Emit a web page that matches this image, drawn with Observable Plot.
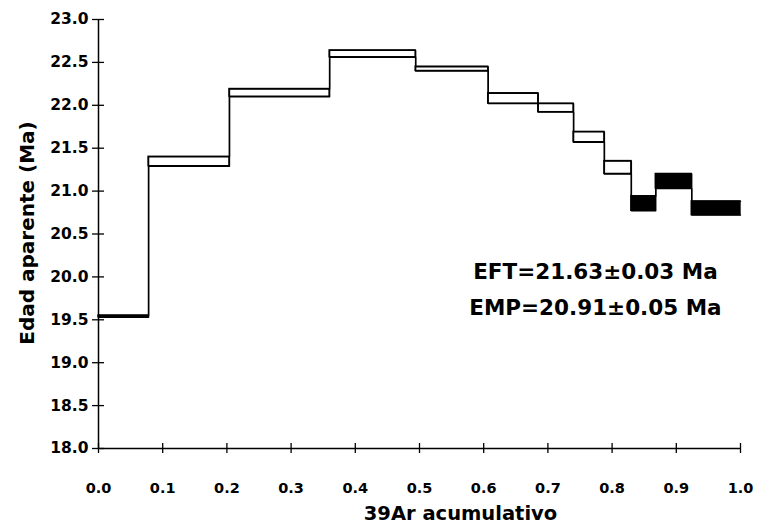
<!DOCTYPE html>
<html>
<head>
<meta charset="utf-8">
<script src="https://cdn.jsdelivr.net/npm/d3@7"></script>
<script src="https://cdn.jsdelivr.net/npm/@observablehq/plot@0.6"></script>
<style>
  html, body { margin: 0; padding: 0; background: #fff; }
</style>
</head>
<body>
<div id="chart"></div>
<script>
// Age spectrum data (cumulative 39Ar fraction vs apparent age, Ma)
const stepStart = [0.000, 0.078, 0.204, 0.360, 0.494, 0.607, 0.685, 0.740, 0.788, 0.830, 0.868, 0.924];
const stepEnd   = [0.078, 0.204, 0.360, 0.494, 0.607, 0.685, 0.740, 0.788, 0.830, 0.868, 0.924, 1.000];
const ageTop    = [19.55, 21.40, 22.19, 22.64, 22.45, 22.14, 22.02, 21.69, 21.35, 20.94, 21.20, 20.88];
const ageBottom = [19.53, 21.29, 22.10, 22.56, 22.40, 22.02, 21.92, 21.57, 21.20, 20.77, 21.03, 20.72];
const plateauStep = [false, false, false, false, false, false, false, false, false, true, true, true];

const xTicks = [0, 0.1, 0.2, 0.3, 0.4, 0.5, 0.6, 0.7, 0.8, 0.9, 1.0];
const yTicks = [18, 18.5, 19, 19.5, 20, 20.5, 21, 21.5, 22, 22.5, 23];

const xTitle = "39Ar acumulativo";
const yTitle = "Edad aparente (Ma)";
const annotations = ["EFT=21.63±0.03 Ma", "EMP=20.91±0.05 Ma"];
const annotationAge = [20.06, 19.64];

const steps = stepStart.map((s, i) => ({
  x1: s, x2: stepEnd[i], top: ageTop[i], bottom: ageBottom[i], filled: plateauStep[i]
}));
const topLine = steps.map(d => ({x: d.x1, y: d.top})).concat([{x: 1, y: ageTop[ageTop.length - 1]}]);
const bottomLine = steps.map(d => ({x: d.x1, y: d.bottom})).concat([{x: 1, y: ageBottom[ageBottom.length - 1]}]);

const font = "DejaVu Sans";
const fmt = d3.format(".1f");

const chart = Plot.plot({
  width: 758,
  height: 525,
  marginLeft: 98,
  marginRight: 18,
  marginTop: 19,
  marginBottom: 77,
  style: {fontFamily: font, fontWeight: "bold", color: "#000", background: "#fff"},
  x: {domain: [0, 1], label: null},
  y: {domain: [18, 23], label: null},
  marks: [
    Plot.ruleX([0], {stroke: "#000", strokeWidth: 1.5}),
    Plot.ruleY([18], {stroke: "#000", strokeWidth: 1.5}),
    // outward ticks + labels
    Plot.axisX({ticks: xTicks, tickSize: 5, tickPadding: 29, tickFormat: fmt, fontSize: 14.5, fontWeight: "bold", stroke: "#000", strokeWidth: 1.3, label: null}),
    Plot.axisX({ticks: xTicks, tickSize: 5, dy: -5, tickFormat: () => "", stroke: "#000", strokeWidth: 1.3, label: null}),
    Plot.axisY({ticks: yTicks, tickSize: 6, tickPadding: 4, tickFormat: fmt, fontSize: 15.5, fontWeight: "bold", stroke: "#000", strokeWidth: 1.3, label: null}),
    Plot.axisY({ticks: yTicks, tickSize: 6, dx: 6, tickFormat: () => "", stroke: "#000", strokeWidth: 1.3, label: null}),
    // step boxes
    Plot.rect(steps, {x1: "x1", x2: "x2", y1: "bottom", y2: "top", fill: d => d.filled ? "#000" : "#fff", stroke: "#000", strokeWidth: 1.4}),
    Plot.line(topLine, {x: "x", y: "y", curve: "step-after", stroke: "#000", strokeWidth: 1.4}),
    Plot.line(bottomLine, {x: "x", y: "y", curve: "step-after", stroke: "#000", strokeWidth: 1.4}),
    // annotations
    Plot.text(annotations, {x: 0.774, y: (d, i) => annotationAge[i], text: d => d, fontSize: 21.5, fontWeight: "bold", fill: "#000"}),
    // axis titles
    Plot.text([xTitle], {frameAnchor: "bottom", textAnchor: "middle", lineAnchor: "middle", text: d => d, dx: 41, dy: 65, fontSize: 19.5, fontWeight: "bold", fill: "#000"}),
    Plot.text([yTitle], {frameAnchor: "left", textAnchor: "middle", lineAnchor: "middle", text: d => d, dx: -71, dy: -1, rotate: -90, fontSize: 20, fontWeight: "bold", fill: "#000"})
  ]
});
document.getElementById("chart").appendChild(chart);
</script>
</body>
</html>
